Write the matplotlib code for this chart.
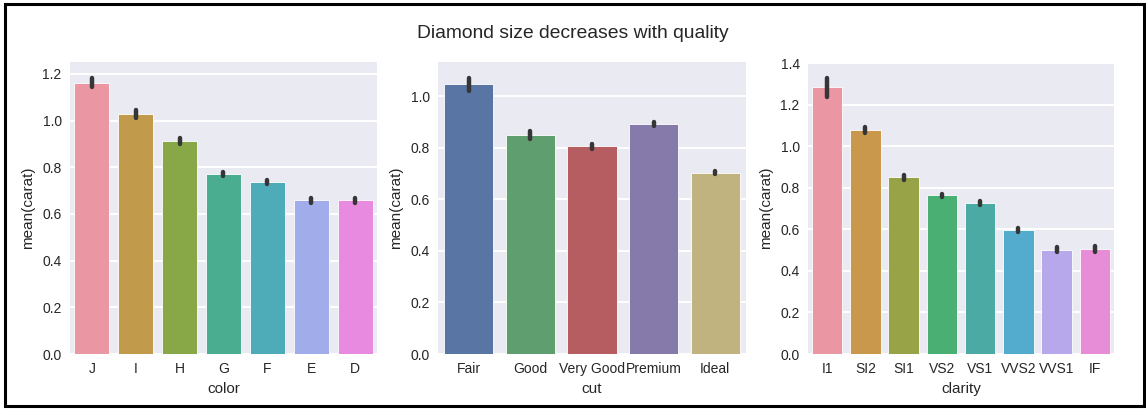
import matplotlib
matplotlib.use("Agg")
import matplotlib.pyplot as plt
from matplotlib.patches import Rectangle
import seaborn as sns

color_cats = ["J", "I", "H", "G", "F", "E", "D"]
color_means = [1.162, 1.027, 0.912, 0.771, 0.737, 0.658, 0.658]
color_err = [0.020, 0.018, 0.014, 0.010, 0.010, 0.009, 0.010]

cut_cats = ["Fair", "Good", "Very Good", "Premium", "Ideal"]
cut_means = [1.046, 0.849, 0.806, 0.892, 0.703]
cut_err = [0.025, 0.015, 0.010, 0.008, 0.005]

clarity_cats = ["I1", "SI2", "SI1", "VS2", "VS1", "VVS2", "VVS1", "IF"]
clarity_means = [1.284, 1.078, 0.850, 0.764, 0.727, 0.596, 0.503, 0.505]
clarity_err = [0.045, 0.013, 0.010, 0.008, 0.010, 0.010, 0.010, 0.015]

sns.set_style("darkgrid")
plt.rcParams['font.family'] = ['Liberation Sans', 'DejaVu Sans']
text_c = "#262626"
plt.rcParams.update({
    "axes.facecolor": "#EAEAF2",
    "grid.color": "white",
    "grid.linewidth": 1.4,
    "text.color": text_c,
    "axes.labelcolor": text_c,
    "xtick.color": text_c,
    "ytick.color": text_c,
})

fig = plt.figure(figsize=(11.46, 4.09), dpi=100)
W, H = 1146, 409

def px_axes(l, r, t, b):
    return fig.add_axes([l / W, 1 - b / H, (r - l) / W, (b - t) / H])

old_deep = ["#4C72B0", "#55A868", "#C44E52", "#8172B2", "#CCB974"]
panels = [
    (color_cats, color_means, color_err, "color", (70, 377), 1.251,
     sns.husl_palette(7, l=.7)),
    (cut_cats, cut_means, cut_err, "cut", (438, 746), 1.132, old_deep),
    (clarity_cats, clarity_means, clarity_err, "clarity", (808, 1114), 1.406,
     sns.husl_palette(8, l=.7)),
]

for cats, means, errs, xlabel, (l, r), ytop, pal in panels:
    ax = px_axes(l, r, 62, 354)
    cols = [sns.desaturate(c, 0.75) for c in pal]
    x = list(range(len(cats)))
    ax.bar(x, means, width=0.8, color=cols, edgecolor="white", linewidth=0.6, zorder=2)
    for xi, m, e in zip(x, means, errs):
        ax.plot([xi, xi], [m - e, m + e], color="#363636", lw=3.2,
                solid_capstyle="round", zorder=3)
    ax.set_xlim(-0.5, len(cats) - 0.5)
    ax.set_ylim(0, ytop)
    ax.set_xticks(x)
    ax.set_xticklabels(cats, fontsize=10)
    ax.tick_params(axis="y", labelsize=10)
    ax.tick_params(axis="both", length=0, pad=6)
    ax.set_xlabel(xlabel, fontsize=11, labelpad=4)
    ax.set_ylabel("mean(carat)", fontsize=11, labelpad=5)
    ax.grid(axis="x", visible=False)
    ax.set_axisbelow(True)
    for s in ax.spines.values():
        s.set_visible(False)

fig.text(0.5, 1 - 33 / H, "Diamond size decreases with quality",
         ha="center", va="center", fontsize=13.9, color=text_c)

fig.add_artist(Rectangle((5 / W, 1 - 406 / H), (1143.5 - 5) / W, (406 - 4) / H,
                         transform=fig.transFigure, fill=False,
                         edgecolor="black", linewidth=2.2))

fig.savefig("out.png", dpi=100)
